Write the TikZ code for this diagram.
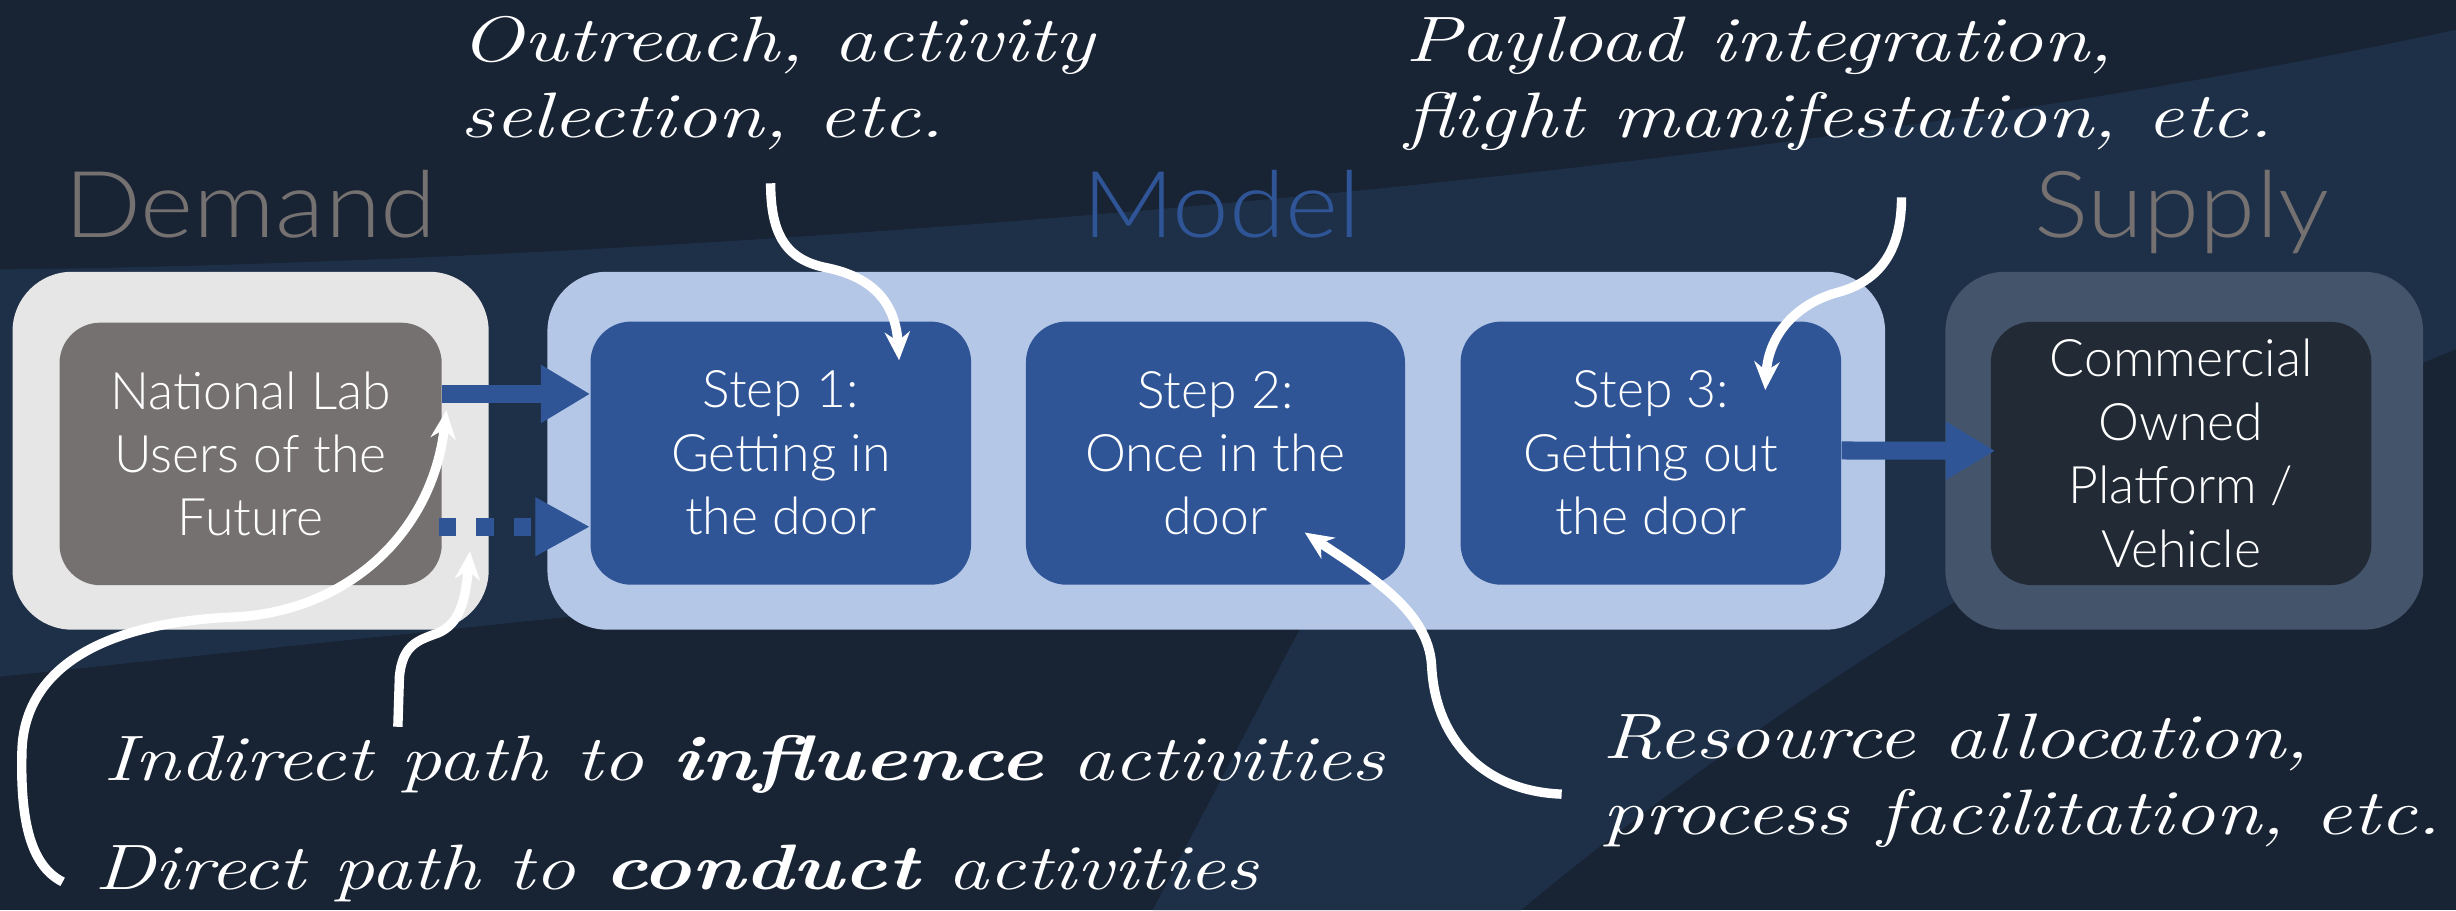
\documentclass[tikz,border=0pt]{standalone}
\usepackage{fontspec}
\setsansfont{Lato}
\newfontfamily\boxfont{Lato Light}
\newfontfamily\titlefont[FakeStretch=1.1]{Lato Light}
\usetikzlibrary{arrows.meta}
\definecolor{bgdark}{HTML}{182334}
\definecolor{bgband}{HTML}{1E3048}
\definecolor{demgray}{HTML}{E6E6E6}
\definecolor{labgray}{HTML}{767171}
\definecolor{modlight}{HTML}{B4C7E7}
\definecolor{stepblue}{HTML}{2F5597}
\definecolor{supslate}{HTML}{44546A}
\definecolor{supdark}{HTML}{222A35}
\begin{document}
\begin{tikzpicture}[x=1pt,y=-1pt,
  outerbox/.style={rounded corners=38pt, minimum width=#1, minimum height=228.5pt, inner sep=0pt},
  innerbox/.style={rounded corners=26pt, minimum width=#1, minimum height=168pt, inner sep=0pt,
     text=white, align=center, font=\boxfont\fontsize{33}{40.5}\selectfont},
  titletext/.style={anchor=base, inner sep=0pt, font=\titlefont\fontsize{59}{60}\selectfont},
  hand/.style={text=white, inner sep=0pt, anchor=base west, font=\fontsize{41}{49}\selectfont\itshape},
  bluearrow/.style={draw=stepblue, line width=11.5pt, -{Triangle[length=31.5pt,width=35pt]}},
  dotarrow/.style={draw=stepblue, line width=11.5pt, dash pattern=on 11pt off 13pt, -{Triangle[length=35pt,width=35pt]}},
  curvearrow/.style={draw=white, line width=6pt, -{Stealth[length=18pt,width=16pt]}}
]
\useasboundingbox (0,0) rectangle (1568,581);
% background
\fill[bgdark] (0,0) rectangle (1568,581);
\fill[bgband] (0,172) .. controls (400,168) and (1100,120) .. (1568,19) -- (1568,223)
   .. controls (1300,330) and (1080,490) .. (971,581) -- (736,581) -- (827,407) -- (840,385)
   -- (380,392) -- (0,432) -- cycle;

% titles
\node[titletext, text=labgray] (demandtitle) at (160,151.5) {Demand};
\node[titletext, text=stepblue] (modeltitle) at (780,151.5) {Model};
\node[titletext, text=labgray] (supplytitle) at (1393,151.5) {Supply};

% boxes
\node[outerbox=304pt, fill=demgray] (demandouter) at (160,287.75) {};
\node[outerbox=854pt, fill=modlight] (modelouter) at (776.5,287.75) {};
\node[outerbox=305pt, fill=supslate] (supplyouter) at (1394.5,287.75) {};

\node[innerbox=244pt, fill=labgray, minimum height=167.6pt] (natlab) at (160,289.8) {National Lab\\Users of the\\Future};
\node[innerbox=243pt, fill=stepblue] (step1) at (498.5,289.3) {Step 1:\\Getting in\\the door};
\node[innerbox=242pt, fill=stepblue] (step2) at (776,289.3) {Step 2:\\Once in the\\door};
\node[innerbox=243pt, fill=stepblue] (step3) at (1054,289.3) {Step 3:\\Getting out\\the door};
\node[innerbox=243pt, fill=supdark] (commercial) at (1392.5,289.5) {Commercial\\Owned\\Platform /\\Vehicle};

% blue arrows
\draw[bluearrow] ([yshift=38.3pt]natlab.east) -- ([yshift=37.8pt]step1.west);
\draw[dotarrow] ([xshift=-2pt,yshift=-46.5pt]natlab.east) -- ([yshift=-47pt]step1.west);
\draw[bluearrow] ([yshift=1.7pt]step3.east) -- ([xshift=3pt,yshift=1.7pt]commercial.west);

% handwritten labels
\node[hand] (outreach) at (294,39) {\scalebox{1.3}[1]{\begin{tabular}[t]{@{}l@{}}Outreach, activity\\selection, etc.\end{tabular}}};
\node[hand] (payload) at (897,39) {\scalebox{1.29}[1]{\begin{tabular}[t]{@{}l@{}}Payload integration,\\flight manifestation, etc.\end{tabular}}};
\node[hand] (indirect) at (66,498) {\scalebox{1.28}[1]{Indirect path to {\bfseries influence} activities}};
\node[hand] (direct) at (60,568) {\scalebox{1.275}[1]{Direct path to {\bfseries conduct} activities}};
\node[hand] (resource) at (1023,484) {\scalebox{1.295}[1]{\begin{tabular}[t]{@{}l@{}}Resource allocation,\\process facilitation, etc.\end{tabular}}};

% white curved arrows
\coordinate (outreachtail) at (492,117);
\coordinate (payloadtail) at (1214,126);
\coordinate (resourcetail) at (997,507);
\coordinate (indirecttail) at (254,464);
\coordinate (directtail) at (40,563);

\draw[curvearrow] (outreachtail) .. controls (492,150) and (502,166) .. (528,171)
   .. controls (562,178) and (572,198) .. ([shift={(75.5,-59.3)}]step1.center);
\draw[curvearrow] (payloadtail) .. controls (1214,160) and (1200,180) .. (1172,187)
   .. controls (1145,195) and (1129,215) .. ([shift={(73,-40.3)}]step3.center);
\draw[curvearrow] (resourcetail) .. controls (945,505) and (916,470) .. (914,425)
   .. controls (912,390) and (875,368) .. ([shift={(57,50.7)}]step2.center);
\draw[curvearrow] (indirecttail) -- (255,432) .. controls (257,412) and (266,409) .. (280,404)
   .. controls (293,398) and (297,385) .. ([shift={(140,64.25)}]demandouter.center);
\draw[curvearrow] (directtail) .. controls (18,552) and (13,520) .. (14,480)
   .. controls (15,430) and (60,398) .. (148,394)
   .. controls (222,391) and (276,340) .. ([shift={(125,-27.8)}]natlab.center);
\end{tikzpicture}
\end{document}
